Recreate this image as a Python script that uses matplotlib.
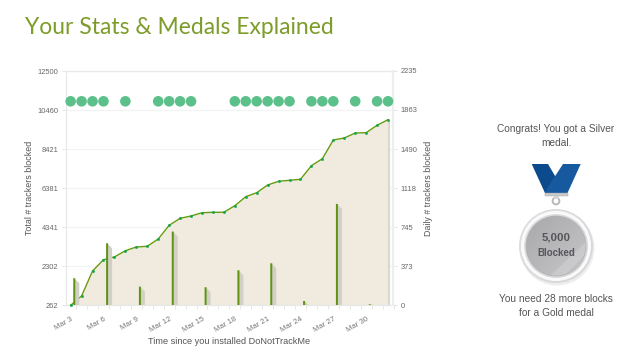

# plot.py
# Tracker stats chart with the medal panel next to it

import numpy as np
import matplotlib
matplotlib.use('Agg')
import matplotlib.pyplot as plt
from matplotlib.patches import Circle, Polygon, Rectangle

plt.rcParams['font.family'] = ['Liberation Sans', 'DejaVu Sans']

# Data
total_blocked = [262, 748, 2053, 2644, 2785, 3114, 3307, 3344, 3725, 4440,
                 4806, 4926, 5098, 5120, 5120, 5464, 5934, 6143, 6545, 6739,
                 6791, 6843, 7553, 7919, 8896, 9000, 9261, 9277, 9664, 9956]
daily_idx = [0, 3, 6, 9, 12, 15, 18, 21, 24, 27]
daily_blocked = [258, 592, 178, 703, 172, 334, 401, 41, 967, 10]
medal_idx = [0, 1, 2, 3, 5, 8, 9, 10, 11, 15, 16, 17, 18, 19, 20, 22, 23, 24, 26, 28, 29]
medal_level = 1946
left_ticks = [262, 2302, 4341, 6381, 8421, 10460, 12500]
right_ticks = [0, 373, 745, 1118, 1490, 1863, 2235]
date_labels = ['Mar 3', 'Mar 6', 'Mar 9', 'Mar 12', 'Mar 15', 'Mar 18',
               'Mar 21', 'Mar 24', 'Mar 27', 'Mar 30']

W, H = 640, 360
days = np.arange(len(total_blocked))

fig = plt.figure(figsize=(6.4, 3.6), dpi=100, facecolor='white')

# Main axes, placed in pixels
px0, px1, py0, py1 = 65.5, 393.5, 71, 305.3
ax = fig.add_axes([px0 / W, 1 - py1 / H, (px1 - px0) / W, (py1 - py0) / H])
ax.set_xlim(-0.47, 29.35)
ax.set_ylim(left_ticks[0], left_ticks[-1])
ax2 = ax.twinx()
ax2.set_ylim(right_ticks[0], right_ticks[-1])

px_x = (29.35 + 0.47) / (px1 - px0)
px_d = right_ticks[-1] / (py1 - py0)

# Area and line
ax.fill_between(days, total_blocked, left_ticks[0], color='#f0ebde', lw=0, zorder=2)
ax.fill_between([days[-1], days[-1] + 2 * px_x], [total_blocked[-1] - 60] * 2, left_ticks[0],
                color='#d9d7d0', lw=0, zorder=2)
ax.plot(days, total_blocked, color='#669c0c', lw=1.0, zorder=4, clip_on=False,
        marker='o', ms=1.7, mfc='#0aa550', mec='#0aa550', mew=0.3)

ax.set_yticks(left_ticks)
ax.grid(axis='y', color='#f3f3f3', lw=0.9, zorder=0)
ax.set_xticks(days[::3], date_labels, rotation=30, ha='right', rotation_mode='anchor')
ax.set_xticks(days + 0.5, minor=True)
ax.tick_params(axis='x', which='major', length=0, labelsize=5.6, labelcolor='#777777', pad=7.5)
ax.tick_params(axis='x', which='minor', length=3, width=0.7, color='#e6e6e6')
ax.tick_params(axis='y', length=3, width=0.7, color='#e6e6e6', labelsize=5.4,
               labelcolor='#666666', pad=2)
ax.set_ylabel('Total # trackers blocked', fontsize=6.4, color='#555555', labelpad=2.5)

# Daily bars with the slanted grey shadow behind them
ax2.set_zorder(ax.get_zorder() + 1)
ax2.patch.set_visible(False)
for i, v in zip(daily_idx, daily_blocked):
    bx = i + 0.33
    sh = min(v, 5 * px_d)
    ax2.add_patch(Polygon([(bx, v), (bx + 5 * px_x, v - sh), (bx + 5 * px_x, 0), (bx, 0)],
                          closed=True, fc='#d2cfc7', ec='none', zorder=2))
bar_xs = [i + 0.33 for i in daily_idx]
bars = ax2.bar(bar_xs, daily_blocked, width=2.0 * px_x, color='#5f9412', zorder=3)
for b in bars:
    b.set_snap(False)

ax2.scatter(medal_idx, [medal_level] * len(medal_idx), s=58, color='#5cc08b',
            edgecolors='none', zorder=5, clip_on=False)
ax2.set_yticks(right_ticks)
ax2.tick_params(axis='y', length=3, width=0.7, color='#e6e6e6', labelsize=5.4,
                labelcolor='#666666', pad=2)
ax2.set_ylabel('Daily # trackers blocked', fontsize=6.4, color='#555555', labelpad=5)

for side, sp in ax.spines.items():
    sp.set_color('#e8e8e8')
    sp.set_linewidth(0.9)
ax.spines['right'].set_visible(False)
for side, sp in ax2.spines.items():
    sp.set_visible(side == 'right')
ax2.spines['right'].set_linewidth(1.6)
ax2.spines['right'].set_color('#eeeeee')

# Overlay in pixel coordinates for the texts and the medal
ov = fig.add_axes([0, 0, 1, 1], zorder=10)
ov.set_xlim(0, W)
ov.set_ylim(H, 0)
ov.axis('off')
ov.patch.set_visible(False)

ov.text(25, 27, 'Your Stats & Medals Explained', fontsize=16.5, color='#7d9c2a',
        family=['Lato', 'DejaVu Sans'], va='center', ha='left')
ov.text(229.5, 342, 'Time since you installed DoNotTrackMe', fontsize=6.6,
        color='#555555', ha='center', va='center')

text_kw = dict(fontsize=7.3, color='#555555', ha='center', va='center')
ov.text(556, 129, 'Congrats! You got a Silver', **text_kw)
ov.text(556, 143, 'medal.', **text_kw)
ov.text(556, 299, 'You need 28 more blocks', **text_kw)
ov.text(556, 313, 'for a Gold medal', **text_kw)


def gradient(cx, cy, r, c_start, c_end, clip):
    # diagonal gradient image clipped to a patch
    n = 64
    u, v = np.meshgrid(np.linspace(0, 1, n), np.linspace(0, 1, n))
    t = ((u + v) / 2)[..., None]
    img = np.array(c_start) * (1 - t) + np.array(c_end) * t
    im = ov.imshow(img, extent=(cx - r, cx + r, cy + r, cy - r), origin='upper',
                   aspect='auto', zorder=clip.get_zorder(), interpolation='bilinear')
    im.set_clip_path(clip)


mx, my = 556, 246

# Ribbon
ov.add_patch(Polygon([(531.7, 164), (548, 164), (558, 181), (552, 193), (545, 193)],
                     fc='#0c4a8e', ec='none', zorder=3))
ov.add_patch(Polygon([(580.7, 164), (563, 164), (546, 190), (546, 193), (567.5, 193)],
                     fc='#17599f', ec='none', zorder=4))
ov.add_patch(Rectangle((545, 193), 22.5, 2.5, fc='#c8cacc', ec='#a5a7a9', lw=0.3, zorder=5))

# Ring between ribbon and medal
ov.add_patch(Circle((556, 201), 3.4, fc='none', ec='#b4b4b4', lw=1.3, zorder=5))
ov.add_patch(Rectangle((553.5, 196), 5, 3, fc='#d4d4d4', ec='none', zorder=5))

# Medal disc
ov.add_patch(Circle((mx + 1, my + 2), 37.5, fc='#dddddd', ec='none', alpha=0.5, zorder=4))
outer = Circle((mx, my), 37, fc='none', ec='none', zorder=5)
ov.add_patch(outer)
gradient(mx, my, 37, (0.88, 0.88, 0.89), (0.84, 0.84, 0.85), outer)
ov.add_patch(Circle((mx, my), 33.5, fc='none', ec='#fafafa', lw=2.2, zorder=6))
inner = Circle((mx, my), 30, fc='none', ec='none', zorder=6)
ov.add_patch(inner)
gradient(mx, my, 30, (0.66, 0.66, 0.67), (0.78, 0.78, 0.79), inner)
streak = Polygon([(mx + 30, my - 4), (mx + 30, my + 8), (mx + 8, my + 30), (mx - 6, my + 30)],
                 fc='#d4d4d5', ec='none', alpha=0.5, zorder=7)
ov.add_patch(streak)
streak.set_clip_path(inner)
ov.add_patch(Circle((mx, my), 30, fc='none', ec='#b0b0b1', lw=0.5, zorder=7))

ov.text(mx, 237, '5,000', fontsize=8.2, fontweight='bold', color='#55565a',
        ha='center', va='center', zorder=8)
ov.text(mx, 252.5, 'Blocked', fontsize=7, fontweight='bold', color='#55565a',
        ha='center', va='center', zorder=8)

ov.set_xlim(0, W)
ov.set_ylim(H, 0)

fig.savefig('out.png', dpi=100)
